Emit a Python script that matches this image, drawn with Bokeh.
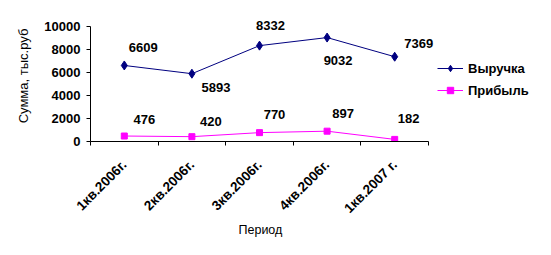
import numpy as np
from bokeh.plotting import figure
from bokeh.models import ColumnDataSource, FixedTicker, Range1d, Legend, LegendItem, Title
from bokeh.core.properties import value
from bokeh.embed import file_html
from bokeh.resources import INLINE

# ---- data ----
periods = ["1кв.2006г.", "2кв.2006г.", "3кв.2006г.", "4кв.2006г.", "1кв.2007 г."]
revenue = [6609, 5893, 8332, 9032, 7369]
profit = [476, 420, 770, 897, 182]
y_ticks = [0, 2000, 4000, 6000, 8000, 10000]
y_max = 10000
x_title = "Период"
y_title = "Сумма, тыс.руб"

# ---- label offsets (pixels, style only) ----
rev_dx = [19, 24, 11, 11, 24]
rev_dy = [-18, 14, -20, 23, -13]
prof_dx = [20, 19, 15, 16, 14]
prof_dy = [-17, -15, -18, -18, -21]

FONT = "Liberation Sans"
n = len(periods)
xs = np.arange(n) + 0.5

# layout: axis area 338 x 115.5 px; frame extended to right / top so labels and legend are not clipped
AX_W, AX_H = 338.0, 115.5
EXT_R, EXT_T = 112.0, 16.0
x_hi = n * (AX_W + EXT_R) / AX_W
y_hi = y_max * (AX_H + EXT_T) / AX_H

rev_src = ColumnDataSource(dict(x=xs, y=revenue, t=[str(v) for v in revenue], dx=rev_dx, dy=rev_dy))
prof_src = ColumnDataSource(dict(x=xs, y=profit, t=[str(v) for v in profit], dx=prof_dx, dy=prof_dy))

p = figure(width=551, height=255, x_range=Range1d(0, x_hi), y_range=Range1d(0, y_hi),
           output_backend="svg", toolbar_location=None,
           min_border_left=90, min_border_right=int(551 - 90 - AX_W - EXT_R),
           min_border_top=int(26 - EXT_T), min_border_bottom=114)
p.outline_line_color = None
p.xgrid.visible = False
p.ygrid.visible = False
p.background_fill_color = "white"
p.border_fill_color = "white"

r1l = p.line("x", "y", source=rev_src, line_color="#000080", line_width=1)
r1m = p.scatter("x", "y", source=rev_src, marker="diamond", size=9, fill_color="#000080", line_color="#000080")
r2l = p.line("x", "y", source=prof_src, line_color="#FF00FF", line_width=1)
r2m = p.scatter("x", "y", source=prof_src, marker="square", size=6, fill_color="#FF00FF", line_color="#FF00FF")

for src in (rev_src, prof_src):
    p.text("x", "y", text="t", source=src, x_offset="dx", y_offset="dy",
           text_align="center", text_baseline="middle", text_color="black",
           text_font=value(FONT), text_font_style="bold", text_font_size="13px")

# x axis
xa = p.xaxis[0]
xa.bounds = (0, n)
xa.ticker = FixedTicker(ticks=list(xs), minor_ticks=list(np.arange(n + 1)))
xa.major_label_overrides = {float(x): lbl for x, lbl in zip(xs, periods)}
xa.major_tick_in = 0
xa.major_tick_out = 0
xa.minor_tick_in = 0
xa.minor_tick_out = 4
xa.minor_tick_line_color = "black"
xa.major_label_orientation = np.pi / 4
xa.major_label_standoff = 17
xa.major_label_text_font = FONT
xa.major_label_text_font_style = "bold"
xa.major_label_text_font_size = "13.5px"
xa.major_label_text_color = "black"
xa.axis_line_color = "black"

# x axis title, centred under the axis (not under the extended frame)
ax_title = Title(text=x_title, align="left", offset=AX_W / 2 - 21, standoff=-8,
                 text_font=FONT, text_font_style="normal", text_font_size="12.5px",
                 text_color="black")
p.add_layout(ax_title, "below")

# y axis
ya = p.yaxis[0]
ya.bounds = (0, y_max)
ya.ticker = FixedTicker(ticks=y_ticks)
ya.major_tick_in = 0
ya.major_tick_out = 4
ya.minor_tick_out = 0
ya.minor_tick_in = 0
ya.major_tick_line_color = "black"
ya.major_label_standoff = 6
ya.major_label_text_font = FONT
ya.major_label_text_font_style = "bold"
ya.major_label_text_font_size = "13px"
ya.major_label_text_color = "black"
ya.axis_label = y_title
ya.axis_label_text_font = FONT
ya.axis_label_text_font_style = "normal"
ya.axis_label_text_font_size = "13px"
ya.axis_label_text_color = "black"
ya.axis_label_standoff = 10
ya.axis_line_color = "black"

legend = Legend(items=[LegendItem(label="Выручка", renderers=[r1l, r1m]),
                       LegendItem(label="Прибыль", renderers=[r2l, r2m])],
                location=(347, 43), orientation="vertical",
                glyph_width=26, glyph_height=16, label_height=16, label_standoff=5,
                spacing=6, padding=0, margin=0,
                border_line_color=None, background_fill_alpha=0,
                label_text_font=FONT, label_text_font_style="bold",
                label_text_font_size="13px", label_text_color="black")
p.add_layout(legend, "center")

open("out.html", "w").write(file_html(p, INLINE))
